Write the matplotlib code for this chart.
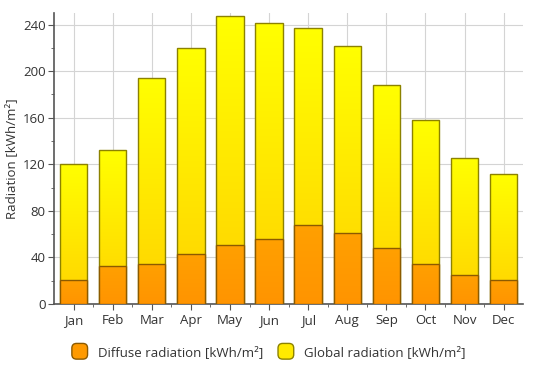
import matplotlib
matplotlib.use("Agg")
import matplotlib.pyplot as plt
import numpy as np
from matplotlib.colors import LinearSegmentedColormap
from matplotlib.patches import FancyBboxPatch
from matplotlib.legend_handler import HandlerPatch

months = ["Jan", "Feb", "Mar", "Apr", "May", "Jun", "Jul", "Aug", "Sep", "Oct", "Nov", "Dec"]
global_rad = [120, 132, 194, 220, 247, 241, 237, 222, 188, 158, 125, 112]
diffuse_rad = [21, 33, 34, 43, 51, 56, 68, 61, 48, 34, 25, 21]

plt.rcParams['font.family'] = ['Open Sans', 'DejaVu Sans']

fig = plt.figure(figsize=(5.35, 3.69), dpi=100)
ax = fig.add_axes([0.101, 0.176, 0.877, 0.789])

x = np.arange(len(months))
g_cmap = LinearSegmentedColormap.from_list("g", ["#FFD200", "#FFFF00"])
d_cmap = LinearSegmentedColormap.from_list("d", ["#FF9400", "#FFA000"])
grad = np.linspace(0, 1, 256).reshape(-1, 1)

gbars = ax.bar(x, global_rad, width=0.7, color="#FFEA00", edgecolor="#8C8200", linewidth=1, zorder=2)
dbars = ax.bar(x, diffuse_rad, width=0.7, color="#FF9A00", edgecolor="#8C5A00", linewidth=1, zorder=3)

# gradient fills clipped to each bar
for bars, cmap, z in [(gbars, g_cmap, 2.5), (dbars, d_cmap, 3.5)]:
    for b in bars:
        x0, y0 = b.get_x(), b.get_y()
        im = ax.imshow(grad, cmap=cmap, origin="lower", aspect="auto",
                       extent=[x0, x0 + b.get_width(), y0, y0 + b.get_height()], zorder=z)
        im.set_clip_path(b)
        b.set_facecolor("none")
        b.set_zorder(z + 0.1)

ax.set_xlim(-0.5, 11.5)
ax.set_ylim(0, 250)
ax.set_yticks(np.arange(0, 241, 40))
ax.set_yticks(np.arange(20, 241, 40), minor=True)
ax.set_xticks(x)
ax.set_xticks(np.arange(0.5, 11, 1), minor=True)
ax.set_xticklabels(months)
ax.grid(True, color="#D4D4D4", linewidth=0.8, zorder=0)
ax.set_axisbelow(True)

for s in ["top", "right"]:
    ax.spines[s].set_visible(False)
for s in ["left", "bottom"]:
    ax.spines[s].set_color("#555555")
    ax.spines[s].set_linewidth(1.2)

ax.tick_params(axis="both", which="major", length=4, color="#555555", labelsize=9.5, labelcolor="#333333")
ax.tick_params(axis="y", which="major", pad=2)
ax.tick_params(axis="both", which="minor", length=2, color="#555555")
ax.set_ylabel("Radiation [kWh/m²]", fontsize=9.5, color="#333333")
ax.yaxis.set_label_coords(-0.077, 0.5)


class RoundHandler(HandlerPatch):
    def create_artists(self, legend, orig_handle, xdescent, ydescent, width, height, fontsize, trans):
        s = height * 1.7
        p = FancyBboxPatch((xdescent + (width - s) / 2, ydescent + (height - s) / 2), s, s,
                           boxstyle="round,pad=0,rounding_size=%f" % (s * 0.3),
                           facecolor=orig_handle.get_facecolor(), edgecolor=orig_handle.get_edgecolor(),
                           linewidth=1, transform=trans)
        return [p]


h1 = plt.Rectangle((0, 0), 1, 1, facecolor="#FF9A00", edgecolor="#8C5A00")
h2 = plt.Rectangle((0, 0), 1, 1, facecolor="#FFEA00", edgecolor="#8C8200")
fig.legend([h1, h2], ["Diffuse radiation [kWh/m²]", "Global radiation [kWh/m²]"],
           loc="center", bbox_to_anchor=(0.5, 0.045), ncol=2, frameon=False, fontsize=9.5,
           handler_map={plt.Rectangle: RoundHandler()}, handlelength=1.5, handletextpad=0.6,
           columnspacing=1.0, labelcolor="#333333")

fig.savefig("out.png", dpi=100)
